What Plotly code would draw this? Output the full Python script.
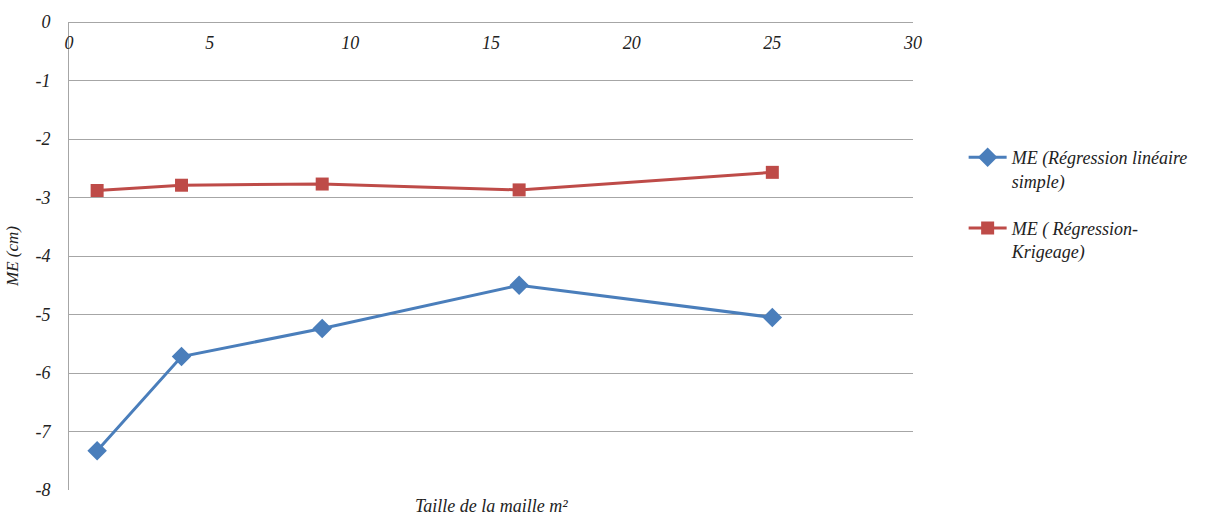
import plotly.graph_objects as go

# Grid cell size (m²) and mean error (cm) for each method
taille = [1, 4, 9, 16, 25]
me_regression = [-7.33, -5.72, -5.24, -4.50, -5.05]
me_krigeage = [-2.88, -2.79, -2.77, -2.87, -2.57]

serie_noms = ["ME (Régression linéaire<br>simple)", "ME ( Régression-<br>Krigeage)"]
x_ticks = [0, 5, 10, 15, 20, 25, 30]
y_ticks = [0, -1, -2, -3, -4, -5, -6, -7, -8]
y_tick_labels = ["0", "-1", "-2", "-3", "-4", "-5", "-6", "-7", "-8"]

FONT = "Liberation Serif, Times New Roman, serif"
GRID = "#a6a6a6"
TXT = "#222222"

fig = go.Figure()
fig.add_trace(go.Scatter(
    x=taille, y=me_regression, name=serie_noms[0], mode="lines+markers",
    legendgroup="reg",
    line=dict(color="#4a7ebb", width=3),
    marker=dict(symbol="diamond", size=15, color="#4a7ebb"),
))
fig.add_trace(go.Scatter(
    x=taille, y=me_krigeage, name=serie_noms[1], mode="lines+markers",
    legendgroup="krig",
    line=dict(color="#be4b48", width=3),
    marker=dict(symbol="square", size=13, color="#be4b48"),
))

fig.update_layout(
    width=1208, height=517,
    margin=dict(l=65, r=295, t=15, b=27),
    paper_bgcolor="white", plot_bgcolor="white",
    font=dict(family=FONT, size=16, color=TXT),
    showlegend=True,
    legend=dict(
        x=1.06, y=0.75, xanchor="left", yanchor="top",
        valign="top", tracegroupgap=21,
        font=dict(family=FONT, size=18, style="italic", color=TXT),
        itemwidth=38,
    ),
    xaxis=dict(
        range=[0, 30], tickvals=x_ticks, side="bottom",
        anchor="free", position=1,
        showgrid=False, zeroline=False,
        showline=True, linecolor=GRID, linewidth=1,
        tickfont=dict(family=FONT, size=18, style="italic", color=TXT),
        ticks="", ticklabelstandoff=4,
    ),
    yaxis=dict(
        range=[-8, 0], tickvals=y_ticks, ticktext=y_tick_labels,
        showgrid=True, gridcolor=GRID,
        gridwidth=1, zeroline=False, showline=True, linecolor=GRID,
        linewidth=1, ticks="", ticklabelstandoff=14,
        tickfont=dict(family=FONT, size=18, style="italic", color=TXT),
        title=dict(text="ME (cm)", standoff=12,
                   font=dict(family=FONT, size=17, style="italic", color=TXT)),
    ),
)

fig.add_annotation(
    text="Taille de la maille m²", xref="paper", yref="paper",
    x=0.5, y=0, yshift=-4, xanchor="center", yanchor="top", showarrow=False,
    font=dict(family=FONT, size=18, style="italic", color=TXT),
)

fig.write_html("out.html")
